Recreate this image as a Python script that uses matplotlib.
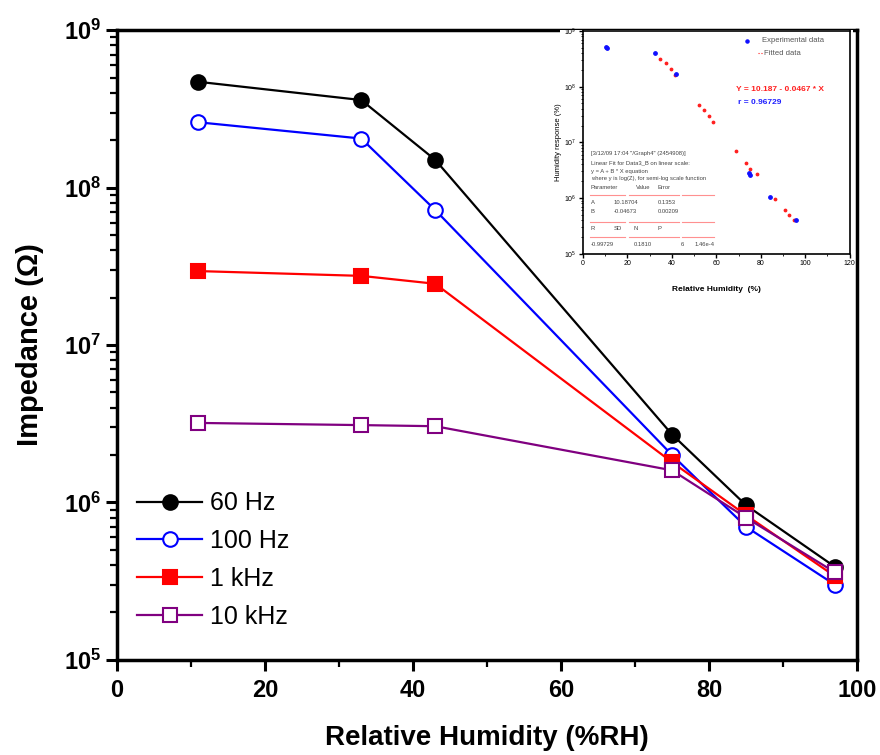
import numpy as np
import matplotlib
matplotlib.use("Agg")
import matplotlib.pyplot as plt
from matplotlib.ticker import LogLocator, FixedLocator, NullFormatter, FuncFormatter

plt.rcParams['font.family'] = ['Liberation Sans', 'DejaVu Sans']
plt.rcParams['mathtext.fontset'] = 'custom'
plt.rcParams['mathtext.rm'] = 'Liberation Sans'
plt.rcParams['mathtext.bf'] = 'Liberation Sans:bold'

# datos principales
humedad = [11, 33, 43, 75, 85, 97]
z_60hz = [4.7e8, 3.6e8, 1.5e8, 2.7e6, 9.6e5, 3.9e5]
z_100hz = [2.6e8, 2.05e8, 7.2e7, 2.0e6, 7.0e5, 3.0e5]
z_1khz = [2.95e7, 2.75e7, 2.45e7, 1.8e6, 8.3e5, 3.4e5]
z_10khz = [3.2e6, 3.1e6, 3.05e6, 1.6e6, 8.0e5, 3.6e5]

# datos del recuadro (log10)
ins_exp_x = [10.5, 11.0, 32.3, 42.0, 74.9, 75.2, 84.3, 96.0]
ins_exp_log = [8.71, 8.70, 8.60, 8.22, 6.45, 6.41, 6.01, 5.60]
ins_fit_x = [34.8, 37.5, 39.6, 41.5, 52.0, 54.6, 56.5, 58.4, 69.0, 73.5, 75.3, 78.3, 86.3, 90.8, 92.6, 94.8]
ins_fit_log = [8.50, 8.42, 8.31, 8.21, 7.67, 7.58, 7.47, 7.36, 6.84, 6.63, 6.52, 6.43, 5.99, 5.79, 5.69, 5.61]

fig = plt.figure(figsize=(8.8, 7.55), dpi=100)
ax = fig.add_axes([0.133, 0.126, 0.841, 0.834])

series = [
    (z_60hz, 'black', 'o', 'black', '60 Hz'),
    (z_100hz, '#0000ff', 'o', 'white', '100 Hz'),
    (z_1khz, '#ff0000', 's', '#ff0000', '1 kHz'),
    (z_10khz, '#800080', 's', 'white', '10 kHz'),
]
for vals, col, mk, fc, lab in series:
    ax.plot(humedad, vals, color=col, linewidth=1.6, marker=mk, markersize=10.5,
            markerfacecolor=fc, markeredgecolor=col, markeredgewidth=1.5, label=lab)

ax.set_yscale('log')
ax.set_ylim(1e5, 1e9)
ax.set_xlim(0, 100)
ax.set_xticks([0, 20, 40, 60, 80, 100])
ax.xaxis.set_minor_locator(FixedLocator([10, 30, 50, 70, 90]))
ax.yaxis.set_major_locator(LogLocator(base=10))
ax.yaxis.set_minor_locator(LogLocator(base=10, subs=np.arange(2, 10)))
ax.yaxis.set_minor_formatter(NullFormatter())
ax.yaxis.set_major_formatter(FuncFormatter(lambda v, p: r'$\mathbf{10^{%d}}$' % round(np.log10(v))))

for s in ax.spines.values():
    s.set_linewidth(2.5)
ax.tick_params(which='major', direction='out', length=8, width=2.2, labelsize=17)
ax.tick_params(which='minor', direction='out', length=5, width=1.6)
ax.tick_params(axis='x', pad=6)
for t in ax.get_xticklabels():
    t.set_fontweight('bold')

ax.set_xlabel('Relative Humidity (%RH)', fontsize=20, fontweight='bold', labelpad=16)
ax.set_ylabel('Impedance (Ω)', fontsize=21, fontweight='bold', labelpad=14)

ax.legend(loc='lower left', bbox_to_anchor=(0.0, 0.018), frameon=False, fontsize=18,
          handlelength=2.6, handletextpad=0.3, labelspacing=0.55, borderaxespad=0.4)

# recuadro insertado
fondo = fig.add_axes([0.636, 0.605, 0.333, 0.355])
fondo.set_facecolor('white')
fondo.set_xticks([])
fondo.set_yticks([])
for s in fondo.spines.values():
    s.set_visible(False)

ins = fig.add_axes([0.6625, 0.664, 0.303, 0.295])
ins.set_yscale('log')
ins.set_xlim(0, 120)
ins.set_ylim(1e5, 1e9)
ins.scatter(ins_fit_x, 10 ** np.array(ins_fit_log), s=3, color='#ff2020', zorder=3)
ins.scatter(ins_exp_x, 10 ** np.array(ins_exp_log), s=6, color='#1010ff', zorder=4)
ins.set_xticks([0, 20, 40, 60, 80, 100, 120])
ins.xaxis.set_minor_locator(FixedLocator([10, 30, 50, 70, 90, 110]))
ins.yaxis.set_major_locator(LogLocator(base=10))
ins.yaxis.set_minor_locator(LogLocator(base=10, subs=np.arange(2, 10)))
ins.yaxis.set_minor_formatter(NullFormatter())
ins.yaxis.set_major_formatter(FuncFormatter(lambda v, p: r'$10^{%d}$' % round(np.log10(v))))
ins.tick_params(which='major', direction='out', length=3, width=1, labelsize=5, pad=1.5)
ins.tick_params(which='minor', direction='out', length=1.5, width=0.6)
for s in ins.spines.values():
    s.set_linewidth(1.2)
ins.set_xlabel('Relative Humidity  (%)', fontsize=6, fontweight='bold', labelpad=14)
ins.set_ylabel('Humidity response (%)', fontsize=5.5, labelpad=2)

ins.scatter([0.615], [0.955], s=5, color='#1010ff', transform=ins.transAxes)
ins.text(0.67, 0.955, 'Experimental data', fontsize=5.5, color='#555555',
         transform=ins.transAxes, va='center')
ins.plot([0.655, 0.675], [0.90, 0.90], color='#ff2020', lw=0.8, ls=':', transform=ins.transAxes)
ins.text(0.68, 0.90, 'Fitted data', fontsize=5.5, color='#555555',
         transform=ins.transAxes, va='center')
ins.text(0.575, 0.735, 'Y = 10.187 - 0.0467 * X', fontsize=6, color='#ff2020',
         fontweight='bold', transform=ins.transAxes, va='center')
ins.text(0.58, 0.678, 'r = 0.96729', fontsize=6, color='#2020ff',
         fontweight='bold', transform=ins.transAxes, va='center')

lineas = [
    (0.45, '[3/12/09 17:04 "/Graph4" (2454908)]'),
    (0.41, 'Linear Fit for Data3_B on linear scale:'),
    (0.367, 'y = A + B * X equation'),
    (0.337, 'where y is log(Z), for semi-log scale function'),
]
for yy, txt in lineas:
    ins.text(0.03, yy, txt, fontsize=4.2, color='#444444', transform=ins.transAxes, va='center')

tabla = [
    (0.298, ['Parameter', 'Value', 'Error'], [0.03, 0.2, 0.28]),
    (0.228, ['A', '10.18704', '0.1353'], [0.03, 0.115, 0.28]),
    (0.19, ['B', '-0.04673', '0.00209'], [0.03, 0.115, 0.28]),
    (0.113, ['R', 'SD', 'N', 'P'], [0.03, 0.115, 0.19, 0.28]),
    (0.039, ['-0.99729', '0.1810', '6', '1.46e-4'], [0.03, 0.19, 0.365, 0.42]),
]
for yy, celdas, xs in tabla:
    for xx, c in zip(xs, celdas):
        ins.text(xx, yy, c, fontsize=4.2, color='#444444', transform=ins.transAxes, va='center')
for yy in [0.262, 0.143, 0.076]:
    for x0, x1 in [(0.028, 0.159), (0.171, 0.359), (0.371, 0.49)]:
        ins.plot([x0, x1], [yy, yy], color='#ff9090', lw=0.8, transform=ins.transAxes)

fig.savefig('out.png', dpi=100)
